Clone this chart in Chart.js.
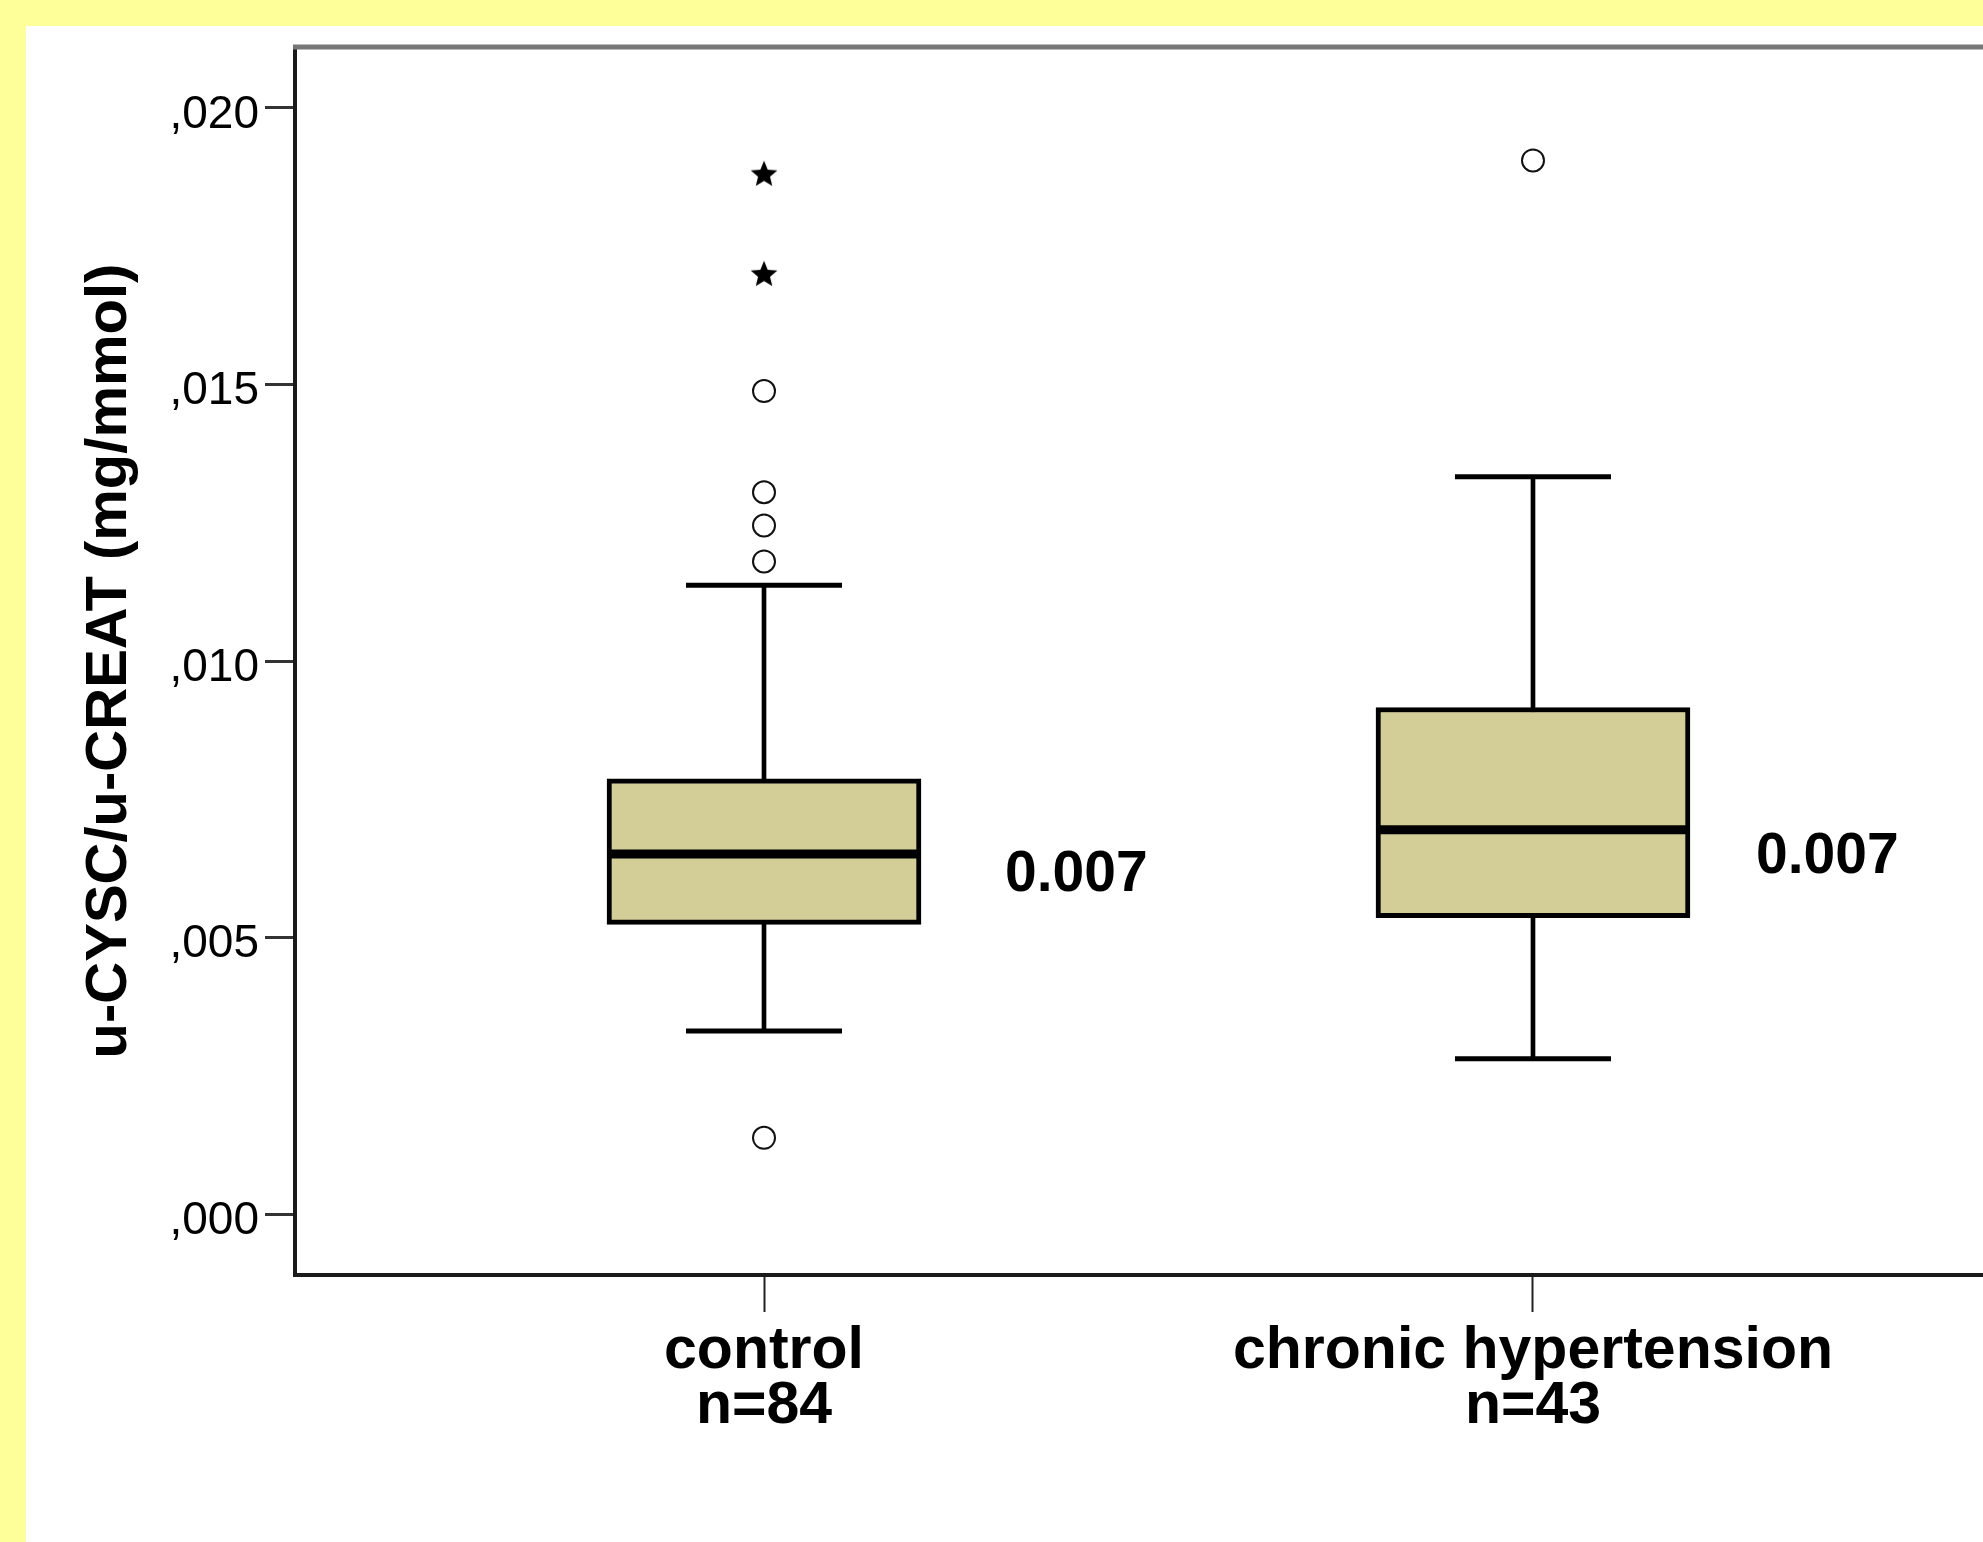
<!DOCTYPE html>
<html>
<head>
<meta charset="utf-8">
<script src="https://cdn.jsdelivr.net/npm/chart.js@4/dist/chart.umd.min.js"></script>
<style>
  html, body { margin: 0; padding: 0; overflow: hidden; background: #FFFF99; }
  #frame { position: absolute; left: 26px; top: 26px; right: 0; bottom: 0; background: #ffffff; }
  #c { position: absolute; left: 0; top: 0; }
</style>
</head>
<body>
<div id="frame"></div>
<canvas id="c" width="1983" height="1542"></canvas>
<script>
// ---- data ----
const categories = [['control', 'n=84'], ['chronic hypertension', 'n=43']];
const xPositions = [1, 2];
const whiskerLow = [0.00331, 0.00281];
const q1 = [0.00524, 0.00536];
const median = [0.00651, 0.00695];
const q3 = [0.00787, 0.00916];
const whiskerHigh = [0.01137, 0.01333];
const outliersControl = [0.01488, 0.01305, 0.01245, 0.01180, 0.00138];
const outliersHypertension = [0.01905];
const extremesControl = [0.01881, 0.01700];
const extremesHypertension = [];
const medianLabels = ['0.007', '0.007'];
const yTicks = [0, 0.005, 0.010, 0.015, 0.020];
const yTickLabels = [',000', ',005', ',010', ',015', ',020'];

// ---- helpers to build library datasets ----
const boxData = xPositions.map((x, i) => ({ x: x, y: [q1[i], q3[i]] }));
const stemData = xPositions.map((x, i) => ({ x: x, y: [whiskerLow[i], whiskerHigh[i]] }));
const medianData = xPositions.map((x, i) => ({ x: x, y: median[i] }));
const capData = [];
xPositions.forEach((x, i) => { capData.push({ x: x, y: whiskerLow[i] }); capData.push({ x: x, y: whiskerHigh[i] }); });
const outlierGroups = [outliersControl, outliersHypertension];
const extremeGroups = [extremesControl, extremesHypertension];
const outlierData = [];
outlierGroups.forEach((g, i) => g.forEach(v => outlierData.push({ x: xPositions[i], y: v })));
const extremeData = [];
extremeGroups.forEach((g, i) => g.forEach(v => extremeData.push({ x: xPositions[i], y: v })));

function makeStar(size) {
  const c = document.createElement('canvas');
  c.width = size; c.height = size;
  const g = c.getContext('2d');
  g.fillStyle = '#000';
  g.beginPath();
  for (let k = 0; k < 10; k++) {
    const r = (k % 2 === 0) ? size / 2 : size / 2 * 0.45;
    const a = -Math.PI / 2 + k * Math.PI / 5;
    g.lineTo(size / 2 + r * Math.cos(a), size / 2 + 1 + r * Math.sin(a));
  }
  g.closePath();
  g.fill();
  return c;
}
const starImg = makeStar(28);

const FONT = "'Liberation Sans', Arial, sans-serif";

const framePlugin = {
  id: 'framePlugin',
  afterDraw(chart) {
    const { ctx, chartArea } = chart;
    ctx.save();
    ctx.strokeStyle = '#777777';
    ctx.lineWidth = 5;
    ctx.beginPath();
    ctx.moveTo(chartArea.left - 2, chartArea.top);
    ctx.lineTo(chartArea.right, chartArea.top);
    ctx.stroke();
    ctx.restore();
  }
};

const medianLabelPlugin = {
  id: 'medianLabelPlugin',
  afterDatasetsDraw(chart, args, opts) {
    const { ctx } = chart;
    const xs = chart.scales.x, ys = chart.scales.y;
    ctx.save();
    ctx.fillStyle = '#000';
    ctx.font = 'bold 57px ' + FONT;
    ctx.textAlign = 'left';
    ctx.textBaseline = 'alphabetic';
    medianLabels.forEach((t, i) => {
      const px = xs.getPixelForValue(xPositions[i]) + opts.dx[i];
      const py = ys.getPixelForValue(median[i]) + opts.dy[i];
      ctx.fillText(t, px, py);
    });
    ctx.restore();
  }
};

new Chart(document.getElementById('c'), {
  type: 'bar',
  data: {
    datasets: [
      {
        type: 'bar', data: stemData, grouped: false, barThickness: 4,
        backgroundColor: '#000', borderWidth: 0, order: 5
      },
      {
        type: 'bar', data: boxData, grouped: false, barThickness: 314,
        backgroundColor: '#D3CE97', borderColor: '#000', borderWidth: 5,
        borderSkipped: false, order: 4
      },
      {
        type: 'scatter', data: medianData, pointStyle: 'line', pointRadius: 155,
        borderColor: '#000', borderWidth: 9, order: 3
      },
      {
        type: 'scatter', data: capData, pointStyle: 'line', pointRadius: 78,
        borderColor: '#000', borderWidth: 5, order: 2
      },
      {
        type: 'scatter', data: outlierData, pointStyle: 'circle', pointRadius: 11,
        borderColor: '#111', borderWidth: 2, backgroundColor: 'rgba(0,0,0,0)', order: 1
      },
      {
        type: 'scatter', data: extremeData, pointStyle: starImg, pointRadius: 14, order: 1
      }
    ]
  },
  options: {
    responsive: false,
    animation: false,
    devicePixelRatio: 1,
    events: [],
    layout: { autoPadding: false, padding: { left: 0, top: 47, right: 0, bottom: 0 } },
    plugins: {
      legend: { display: false },
      tooltip: { enabled: false },
      medianLabelPlugin: { dx: [241, 223], dy: [37, 43] }
    },
    scales: {
      x: {
        type: 'linear',
        min: 0.3901,
        max: 2.5852,
        offset: false,
        bounds: 'data',
        grid: {
          offset: false, drawOnChartArea: false, drawTicks: true,
          tickLength: 37, tickWidth: 2, tickColor: '#222'
        },
        border: { display: true, color: '#1a1a1a', width: 4 },
        afterBuildTicks(scale) { scale.ticks = xPositions.map(v => ({ value: v })); },
        afterFit(scale) {
          scale.height = 267;
          scale.paddingLeft = 0; scale.paddingRight = 0;
          scale.paddingTop = 0; scale.paddingBottom = 0;
        },
        ticks: {
          autoSkip: false,
          maxRotation: 0,
          padding: 12,
          color: '#000',
          font: { family: FONT, size: 59, weight: 'bold', lineHeight: 0.93 },
          callback: (v, i) => categories[i]
        }
      },
      y: {
        type: 'linear',
        min: -0.0011,
        max: 0.0211,
        bounds: 'data',
        grid: {
          drawOnChartArea: false, drawTicks: true,
          tickLength: 30, tickWidth: 3, tickColor: '#333'
        },
        border: { display: true, color: '#1a1a1a', width: 4 },
        afterBuildTicks(scale) { scale.ticks = yTicks.map(v => ({ value: v })); },
        afterFit(scale) {
          scale.width = 295;
          scale.paddingLeft = 0; scale.paddingRight = 0;
          scale.paddingTop = 0; scale.paddingBottom = 0;
        },
        ticks: {
          autoSkip: false,
          padding: 6,
          labelOffset: 7,
          color: '#000',
          font: { family: FONT, size: 46 },
          callback: (v, i) => yTickLabels[i]
        },
        title: {
          display: true,
          text: 'u-CYSC/u-CREAT (mg/mmol)',
          color: '#000',
          font: { family: FONT, size: 58, weight: 'bold' },
          padding: { top: 75, bottom: 0 }
        }
      }
    }
  },
  plugins: [framePlugin, medianLabelPlugin]
});
</script>
</body>
</html>
